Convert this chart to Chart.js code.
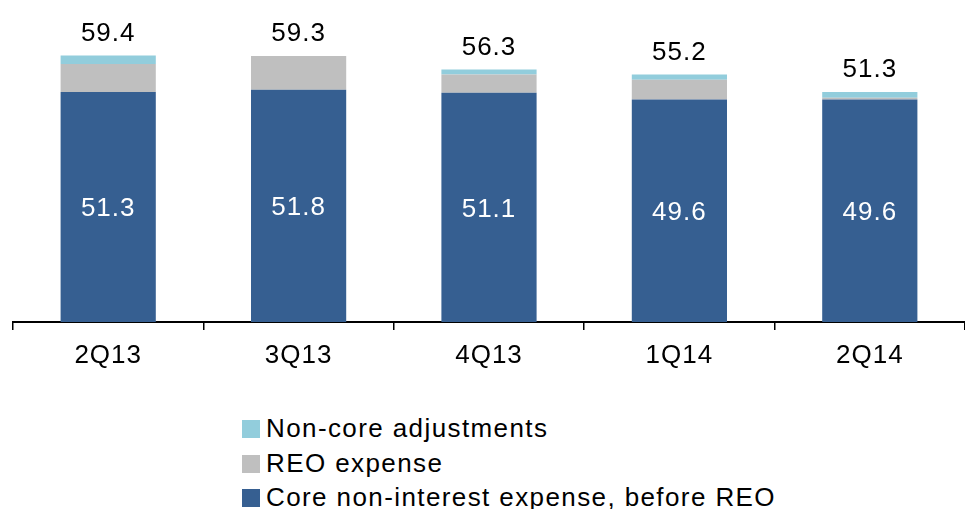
<!doctype html>
<html>
<head>
    <title>Non-interest expense</title>
    <script src="https://cdn.jsdelivr.net/npm/chart.js"></script>
    <style>
        body { margin: 0; background: #fff; font-family: "Liberation Sans", Arial, sans-serif; }
        #wrap { position: relative; width: 965px; height: 509px; }
        #box { position: absolute; left: 0; top: 0; width: 965px; height: 382px; }
        #legend { position: absolute; left: 242px; top: 411px; font-size: 26px; color: #000; letter-spacing: 1.4px; }
        #legend div { height: 34.5px; line-height: 34.5px; white-space: nowrap; }
        #legend span { display: inline-block; width: 18px; height: 18px; margin-right: 6px; vertical-align: -1px; }
    </style>
</head>
<body>
<div id="wrap">
    <div id="box"><canvas id="myChart"></canvas></div>
    <div id="legend"></div>
</div>
<script>
    var quarters = ['2Q13', '3Q13', '4Q13', '1Q14', '2Q14'];
    var coreExpense = [51.3, 51.8, 51.1, 49.6, 49.6];
    var reoExpense = [6.2, 7.5, 4.1, 4.4, 0.4];
    var nonCoreAdj = [1.9, 0.0, 1.1, 1.2, 1.3];
    var totals = [59.4, 59.3, 56.3, 55.2, 51.3];

    var colors = {
        core: '#365F91',
        reo: '#BFBFBF',
        nonCore: '#92CDDC'
    };

    var fontFamily = '"Liberation Sans", Arial, sans-serif';

    // labels: core value inside the blue bar, total above the stack
    var labelPlugin = {
        id: 'barLabels',
        beforeDraw: function(chart) {
            chart.ctx.letterSpacing = '1px';
        },
        afterDatasetsDraw: function(chart) {
            var ctx = chart.ctx;
            var coreMeta = chart.getDatasetMeta(0);
            var topMeta = chart.getDatasetMeta(2);
            ctx.save();
            ctx.textAlign = 'center';
            ctx.textBaseline = 'middle';
            ctx.font = '26px ' + fontFamily;
            coreMeta.data.forEach(function(bar, i) {
                ctx.fillStyle = '#fff';
                ctx.fillText(coreExpense[i].toFixed(1), bar.x, (bar.y + bar.base) / 2 + 2);
                var top = chart.scales.y.getPixelForValue(totals[i]);
                ctx.fillStyle = '#000';
                ctx.fillText(totals[i].toFixed(1), topMeta.data[i].x, top - 22);
            });
            ctx.restore();
        }
    };

    var ctx = document.getElementById('myChart').getContext('2d');
    var chart = new Chart(ctx, {
        type: 'bar',
        data: {
            labels: quarters,
            datasets: [
                { label: 'Core non-interest expense, before REO', data: coreExpense, backgroundColor: colors.core },
                { label: 'REO expense', data: reoExpense, backgroundColor: colors.reo },
                { label: 'Non-core adjustments', data: nonCoreAdj, backgroundColor: colors.nonCore }
            ]
        },
        options: {
            responsive: true,
            maintainAspectRatio: false,
            animation: false,
            layout: { padding: { left: 13, right: 0, top: 8, bottom: 0 } },
            datasets: { bar: { barPercentage: 0.5, categoryPercentage: 1.0, borderWidth: 0 } },
            plugins: {
                legend: { display: false },
                tooltip: { enabled: false }
            },
            scales: {
                x: {
                    stacked: true,
                    border: { display: true, color: '#000', width: 2 },
                    grid: { display: true, drawOnChartArea: false, offset: true, color: '#000', lineWidth: 1.5, tickLength: 8 },
                    ticks: { color: '#000', font: { family: fontFamily, size: 26 }, padding: 10 },
                    afterFit: function(scale) { scale.height = 60; }
                },
                y: {
                    stacked: true,
                    display: false,
                    min: 0,
                    max: 70
                }
            }
        },
        plugins: [labelPlugin]
    });

    // legend, top entry first
    var legend = document.getElementById('legend');
    chart.data.datasets.slice().reverse().forEach(function(ds) {
        var row = document.createElement('div');
        row.innerHTML = '<span style="background:' + ds.backgroundColor + '"></span>' + ds.label;
        legend.appendChild(row);
    });
</script>
</body>
</html>
